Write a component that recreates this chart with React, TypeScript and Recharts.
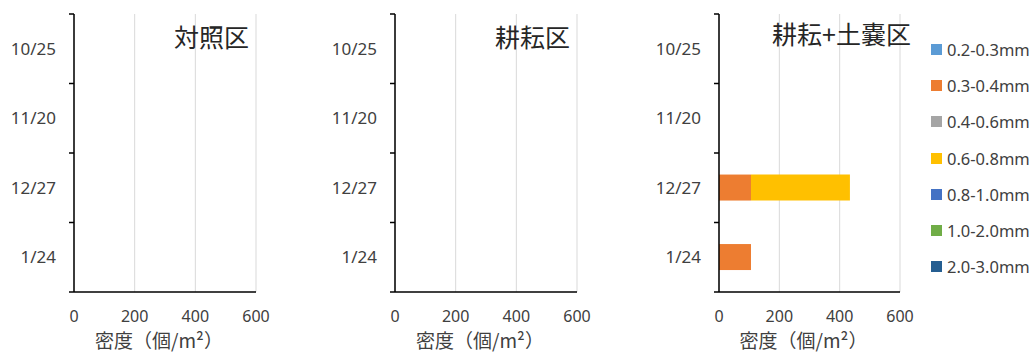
import React from "react";
import { BarChart, Bar, XAxis, YAxis, CartesianGrid } from "recharts";

// sampling dates (top to bottom)
const DATES = ["10/25", "11/20", "12/27", "1/24"];

// particle size classes and their colours
const SIZE_CLASSES = ["0.2-0.3mm", "0.3-0.4mm", "0.4-0.6mm", "0.6-0.8mm", "0.8-1.0mm", "1.0-2.0mm", "2.0-3.0mm"];
const SIZE_COLORS = ["#5B9BD5", "#ED7D31", "#A5A5A5", "#FFC000", "#4472C4", "#70AD47", "#255E91"];

const X_TICKS = [0, 200, 400, 600];

// density (個/m²) per size class, one row per class, one value per date
const CONTROL_DENSITY = [
  [0, 0, 0, 0],
  [0, 0, 0, 0],
  [0, 0, 0, 0],
  [0, 0, 0, 0],
  [0, 0, 0, 0],
  [0, 0, 0, 0],
  [0, 0, 0, 0],
];
const TILLAGE_DENSITY = [
  [0, 0, 0, 0],
  [0, 0, 0, 0],
  [0, 0, 0, 0],
  [0, 0, 0, 0],
  [0, 0, 0, 0],
  [0, 0, 0, 0],
  [0, 0, 0, 0],
];
const TILLAGE_SANDBAG_DENSITY = [
  [0, 0, 0, 0],
  [0, 0, 106, 106],
  [0, 0, 0, 0],
  [0, 0, 328, 0],
  [0, 0, 0, 0],
  [0, 0, 0, 0],
  [0, 0, 0, 0],
];

const FONT = "'Noto Sans', 'Noto Sans CJK JP', sans-serif";
const CJK_FONT = "'Noto Sans CJK JP', 'Noto Sans', sans-serif";
const TEXT = "#404040";
const AXIS = "#000000";
const TICK_LEN = 5;
const TICK_GAP = 13;

function buildRows(values: number[][]) {
  return DATES.map((date, i) => {
    const row: { [key: string]: string | number } = { date };
    SIZE_CLASSES.forEach((s, j) => {
      row[s] = values[j][i];
    });
    return row;
  });
}

function DateTick(props: any) {
  const { x, y, payload, index, visibleTicksCount } = props;
  const half = payload && typeof payload.offset === "number" && payload.offset > 0 ? payload.offset : 34.75;
  const axisX = x + TICK_LEN + TICK_GAP;
  return (
    <g>
      <text x={x} y={y} dy="0.36em" textAnchor="end" fill={TEXT} fontSize={17} fontFamily={FONT}>
        {payload.value}
      </text>
      <line x1={axisX - TICK_LEN} x2={axisX} y1={y - half} y2={y - half} stroke={AXIS} strokeWidth={1.5} />
      {index === visibleTicksCount - 1 && (
        <line x1={axisX - TICK_LEN} x2={axisX} y1={y + half} y2={y + half} stroke={AXIS} strokeWidth={1.5} />
      )}
    </g>
  );
}

function Panel({ values, left, plotWidth }: { values: number[][]; left: number; plotWidth: number }) {
  const width = 74 + plotWidth + 30;
  return (
    <div style={{ position: "absolute", left, top: 0 }}>
      <BarChart
        width={width}
        height={353}
        data={buildRows(values)}
        layout="vertical"
        barCategoryGap="31%"
        margin={{ top: 14, right: 30, bottom: 0, left: 0 }}
      >
        <CartesianGrid horizontal={false} stroke="#D9D9D9" strokeWidth={1} />
        <XAxis
          type="number"
          domain={[0, 600]}
          ticks={X_TICKS}
          interval={0}
          height={61}
          tickLine={false}
          tickMargin={13}
          axisLine={{ stroke: AXIS, strokeWidth: 1.5 }}
          tick={{ fill: TEXT, fontSize: 16, fontFamily: FONT }}
          label={{
            value: "密度（個/m²）",
            position: "insideBottom",
            offset: 5,
            dx: -6,
            fill: TEXT,
            fontSize: 19,
            fontFamily: CJK_FONT,
          }}
        />
        <YAxis
          type="category"
          dataKey="date"
          width={74}
          interval={0}
          tickLine={false}
          tickSize={TICK_LEN}
          tickMargin={TICK_GAP}
          axisLine={{ stroke: AXIS, strokeWidth: 1.5 }}
          tick={(p: any) => <DateTick {...p} />}
        />
        {SIZE_CLASSES.map((s, j) => (
          <Bar key={s} dataKey={s} stackId="a" fill={SIZE_COLORS[j]} isAnimationActive={false} />
        ))}
      </BarChart>
    </div>
  );
}

function Title({ text, left, top }: { text: string; left: number; top: number }) {
  return (
    <div
      style={{
        position: "absolute",
        left,
        top,
        fontSize: 25,
        lineHeight: "25px",
        fontFamily: CJK_FONT,
        color: "#262626",
        whiteSpace: "nowrap",
      }}
    >
      {text}
    </div>
  );
}

export default function App() {
  return (
    <div style={{ position: "absolute", left: 0, top: 0, width: 1034, height: 353, background: "#fff", overflow: "hidden" }}>
      <Panel values={CONTROL_DENSITY} left={0} plotWidth={182} />
      <Panel values={TILLAGE_DENSITY} left={321} plotWidth={182} />
      <Panel values={TILLAGE_SANDBAG_DENSITY} left={645} plotWidth={181} />
      <Title text="対照区" left={174} top={24} />
      <Title text="耕耘区" left={495} top={24} />
      <Title text="耕耘+土嚢区" left={772} top={21} />
      <div style={{ position: "absolute", left: 931, top: 31 }}>
        {SIZE_CLASSES.map((s, j) => (
          <div key={s} style={{ display: "flex", alignItems: "center", height: 36.3 }}>
            <span style={{ width: 11, height: 11, background: SIZE_COLORS[j], display: "inline-block", marginRight: 5 }} />
            <span style={{ fontSize: 16.5, fontFamily: FONT, color: TEXT, whiteSpace: "nowrap" }}>{s}</span>
          </div>
        ))}
      </div>
    </div>
  );
}
